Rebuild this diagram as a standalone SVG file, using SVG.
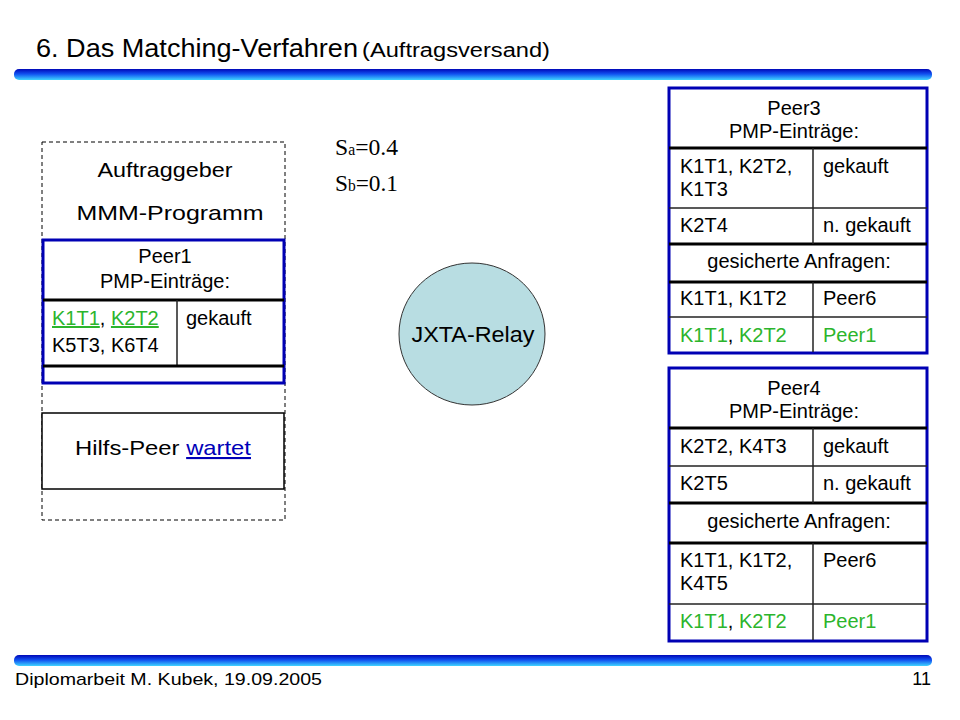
<svg xmlns="http://www.w3.org/2000/svg" width="960" height="720" viewBox="0 0 960 720">
<defs>
<linearGradient id="bar" x1="0" y1="0" x2="0" y2="1">
<stop offset="0" stop-color="#0008b8"/>
<stop offset="0.45" stop-color="#1050f0"/>
<stop offset="1" stop-color="#40d4ff"/>
</linearGradient>
<style>
text{font-family:"Liberation Sans",Arial,sans-serif;fill:#000}
.t{font-size:20px}
.c{text-anchor:middle}
.g{fill:#2cb52c}
.ul{text-decoration:underline}
.blue{fill:#0000b8}
.frame{fill:#fff;stroke:#0000b4;stroke-width:3}
.thick{stroke:#000;stroke-width:3}
.thin{stroke:#222;stroke-width:1.5}
.f{font-family:"Liberation Serif","Times New Roman",serif;font-size:24px}
</style>
</defs>
<rect width="960" height="720" fill="#fff"/>
<g id="header">
<text x="36" y="57" font-size="25" textLength="322" lengthAdjust="spacingAndGlyphs">6. Das Matching-Verfahren</text>
<text x="362" y="57" font-size="20" textLength="188" lengthAdjust="spacingAndGlyphs">(Auftragsversand)</text>
<rect x="14" y="69" width="918" height="11" rx="5" fill="url(#bar)"/>
</g>
<g id="footer">
<rect x="14" y="655" width="918" height="11" rx="5" fill="url(#bar)"/>
<text x="15" y="685" font-size="17" textLength="307" lengthAdjust="spacingAndGlyphs">Diplomarbeit M. Kubek, 19.09.2005</text>
<text x="931" y="685" font-size="18" text-anchor="end">11</text>
</g>
<g id="connectors"></g>
<g id="auftraggeber">
<rect x="42" y="142" width="243" height="378" fill="none" stroke="#000" stroke-width="1" stroke-dasharray="4,3"/>
<text class="c" x="165" y="177" font-size="21" textLength="135" lengthAdjust="spacingAndGlyphs">Auftraggeber</text>
<text class="c" x="170" y="220" font-size="21" textLength="187" lengthAdjust="spacingAndGlyphs">MMM-Programm</text>
</g>
<g id="peer1">
<rect class="frame" x="43" y="240" width="241" height="143"/>
<text class="t c" x="165" y="263">Peer1</text>
<text class="t c" x="165" y="288">PMP-Einträge:</text>
<line class="thick" x1="43" y1="300" x2="284" y2="300"/>
<line class="thin" x1="177" y1="300" x2="177" y2="366"/>
<line class="thick" x1="43" y1="366" x2="284" y2="366"/>
<text class="t" x="52" y="325"><tspan class="g ul">K1T1</tspan>, <tspan class="g ul">K2T2</tspan></text>
<text class="t" x="52" y="352">K5T3, K6T4</text>
<text class="t" x="186" y="325">gekauft</text>
</g>
<g id="hilfspeer">
<rect x="42" y="413" width="242" height="76" fill="#fff" stroke="#000" stroke-width="1.5"/>
<text class="c" x="163" y="455" font-size="21" textLength="176" lengthAdjust="spacingAndGlyphs">Hilfs-Peer <tspan class="blue ul">wartet</tspan></text>
</g>
<g id="formula">
<text class="f" x="335" y="155" textLength="63" lengthAdjust="spacingAndGlyphs">S<tspan font-size="16">a</tspan>=0.4</text>
<text class="f" x="335" y="191" textLength="63" lengthAdjust="spacingAndGlyphs">S<tspan font-size="16">b</tspan>=0.1</text>
</g>
<g id="relay">
<ellipse cx="472" cy="334" rx="73" ry="71" fill="#b8dde2" stroke="#333" stroke-width="1"/>
<text class="c" x="473" y="342" font-size="22" textLength="123" lengthAdjust="spacingAndGlyphs">JXTA-Relay</text>
</g>
<g id="peer3">
<rect class="frame" x="669" y="88" width="258" height="265"/>
<text class="t c" x="794" y="115">Peer3</text>
<text class="t c" x="794" y="138">PMP-Einträge:</text>
<line class="thick" x1="669" y1="148" x2="927" y2="148"/>
<text class="t" x="680" y="173">K1T1, K2T2,</text>
<text class="t" x="680" y="196">K1T3</text>
<text class="t" x="823" y="173">gekauft</text>
<line class="thin" x1="669" y1="208" x2="927" y2="208"/>
<text class="t" x="680" y="232">K2T4</text>
<text class="t" x="823" y="232">n. gekauft</text>
<line class="thick" x1="669" y1="244" x2="927" y2="244"/>
<text class="t c" x="799" y="268">gesicherte Anfragen:</text>
<line class="thick" x1="669" y1="282" x2="927" y2="282"/>
<text class="t" x="680" y="305">K1T1, K1T2</text>
<text class="t" x="823" y="305">Peer6</text>
<line class="thin" x1="669" y1="317" x2="927" y2="317"/>
<text class="t" x="680" y="342"><tspan class="g">K1T1</tspan>, <tspan class="g">K2T2</tspan></text>
<text class="t g" x="823" y="342">Peer1</text>
<line class="thin" x1="813" y1="148" x2="813" y2="244"/>
<line class="thin" x1="813" y1="282" x2="813" y2="352"/>
</g>
<g id="peer4">
<rect class="frame" x="669" y="368" width="258" height="273"/>
<text class="t c" x="794" y="395">Peer4</text>
<text class="t c" x="794" y="418">PMP-Einträge:</text>
<line class="thick" x1="669" y1="428" x2="927" y2="428"/>
<text class="t" x="680" y="453">K2T2, K4T3</text>
<text class="t" x="823" y="453">gekauft</text>
<line class="thin" x1="669" y1="466" x2="927" y2="466"/>
<text class="t" x="680" y="490">K2T5</text>
<text class="t" x="823" y="490">n. gekauft</text>
<line class="thick" x1="669" y1="503" x2="927" y2="503"/>
<text class="t c" x="799" y="528">gesicherte Anfragen:</text>
<line class="thick" x1="669" y1="543" x2="927" y2="543"/>
<text class="t" x="680" y="567">K1T1, K1T2,</text>
<text class="t" x="680" y="590">K4T5</text>
<text class="t" x="823" y="567">Peer6</text>
<line class="thin" x1="669" y1="604" x2="927" y2="604"/>
<text class="t" x="680" y="628"><tspan class="g">K1T1</tspan>, <tspan class="g">K2T2</tspan></text>
<text class="t g" x="823" y="628">Peer1</text>
<line class="thin" x1="813" y1="428" x2="813" y2="503"/>
<line class="thin" x1="813" y1="543" x2="813" y2="640"/>
</g>
</svg>
